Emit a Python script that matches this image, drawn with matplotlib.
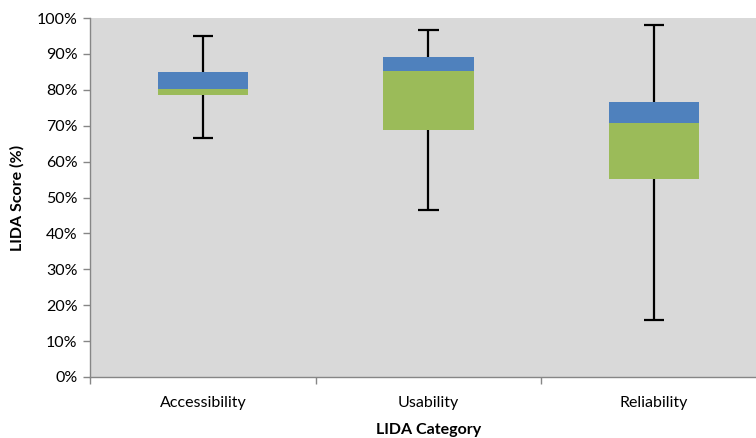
import numpy as np
import matplotlib
matplotlib.use("Agg")
import matplotlib.pyplot as plt
from matplotlib.ticker import PercentFormatter

# box plot values (percent)
categories = ["Accessibility", "Usability", "Reliability"]
v_min = [66.7, 46.4, 15.9]
q1 = [78.6, 68.7, 55.2]
median = [80.1, 85.1, 70.8]
q3 = [85.0, 89.0, 76.6]
v_max = [95.1, 96.6, 98.1]

plt.rcParams['font.family'] = ['Lato', 'DejaVu Sans']

fig = plt.figure(figsize=(7.56, 4.38), dpi=100)
# axes runs a little past the right edge, like the cropped original
ax = fig.add_axes([90/756, 61/438, 677/756, 359/438])
ax.set_facecolor('#D9D9D9')

x = np.arange(len(categories))
q1 = np.array(q1); median = np.array(median); q3 = np.array(q3)
v_min = np.array(v_min); v_max = np.array(v_max)

w = 0.4
ax.bar(x, median - q1, w, bottom=q1, color='#9BBB59', zorder=2)
ax.bar(x, q3 - median, w, bottom=median, color='#4F81BD', zorder=2)

# whiskers: stems plus a cap only at the outer end
cw = 0.045
ax.vlines(x, v_min, q1, color='black', lw=1.6, zorder=3)
ax.vlines(x, q3, v_max, color='black', lw=1.6, zorder=3)
ax.hlines(v_min, x - cw, x + cw, color='black', lw=1.6, zorder=3)
ax.hlines(v_max, x - cw, x + cw, color='black', lw=1.6, zorder=3)

ax.set_xlim(-0.5, 2.5)
ax.set_ylim(0, 100)
ax.set_yticks(np.arange(0, 101, 10))
ax.yaxis.set_major_formatter(PercentFormatter(decimals=0))
ax.set_xticks(x)
ax.set_xticklabels(categories)
ax.set_xticks([-0.5, 0.5, 1.5, 2.5], minor=True)
ax.tick_params(axis='x', which='major', length=0, pad=14, labelsize=11.5)
ax.tick_params(axis='x', which='minor', length=5, color='#868686', width=1)
ax.tick_params(axis='y', length=5, color='#868686', width=1, labelsize=11.5, pad=4)

for s in ['top', 'right']:
    ax.spines[s].set_visible(False)
for s in ['left', 'bottom']:
    ax.spines[s].set_color('#868686')
    ax.spines[s].set_linewidth(1)

ax.set_ylabel('LIDA Score (%)', fontweight='bold', fontsize=11.5, labelpad=9)
ax.set_xlabel('LIDA Category', fontweight='bold', fontsize=11.5, labelpad=9)

fig.savefig('out.png', dpi=100)
